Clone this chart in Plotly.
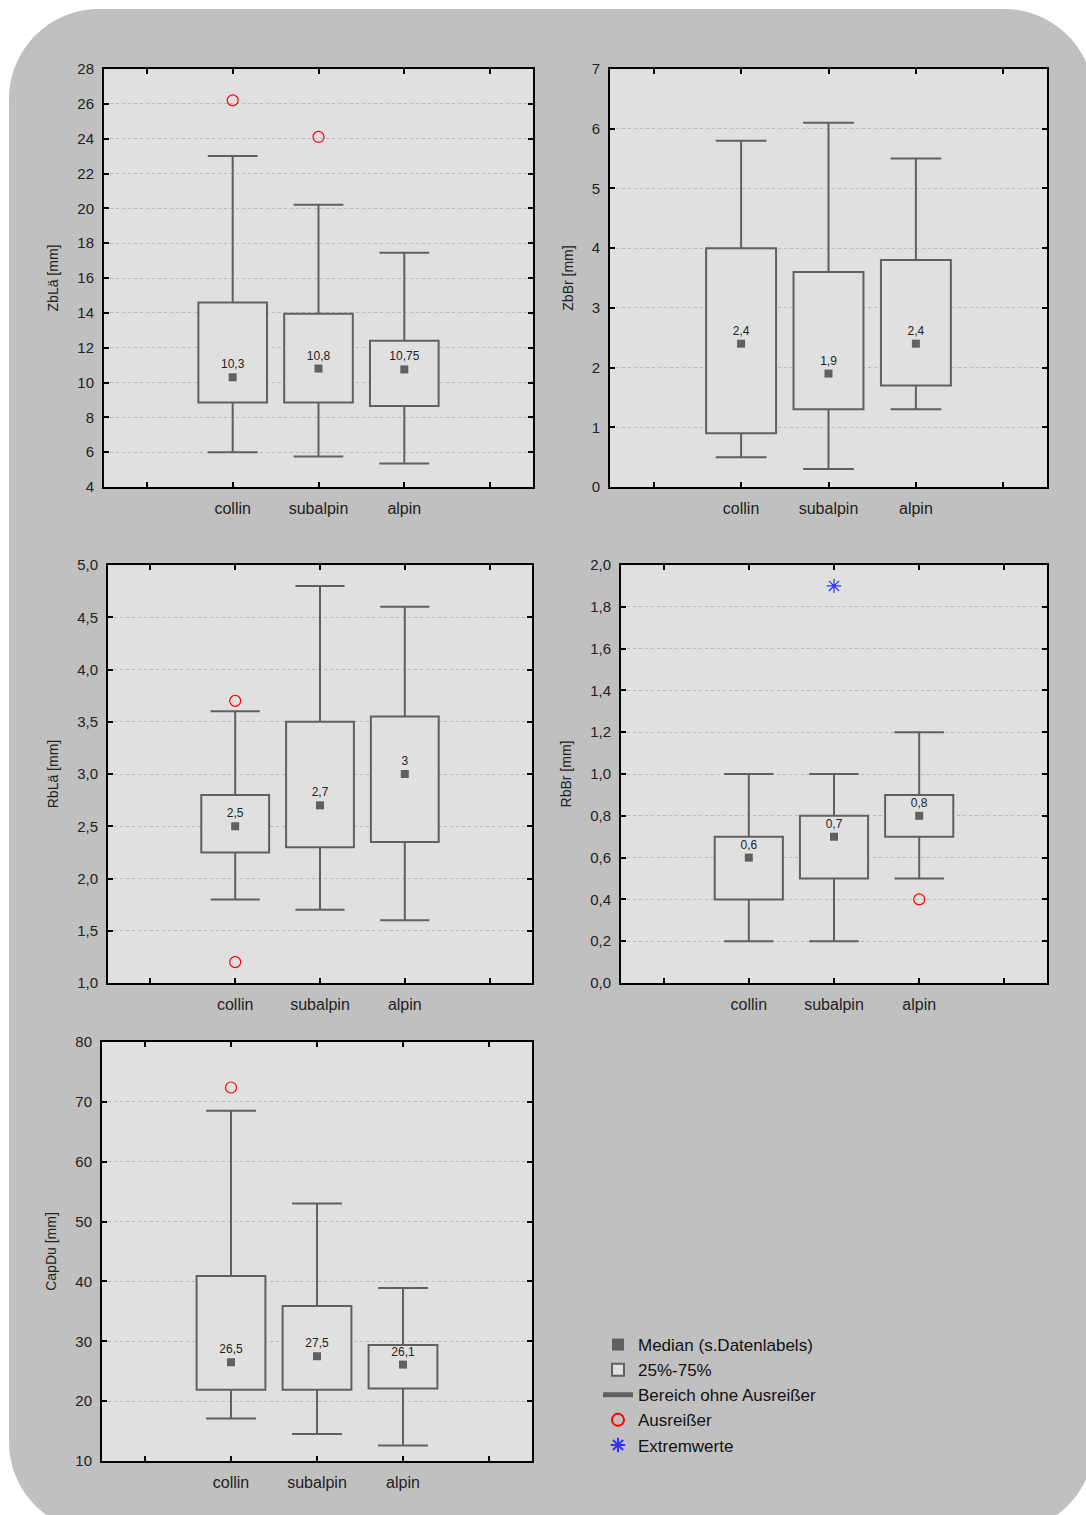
import plotly.graph_objects as go

W, H = 1086, 1515

categories = ["collin", "subalpin", "alpin"]

# ---- ZbLä [mm]
zblae_low = [6.0, 5.75, 5.35]
zblae_q1 = [8.85, 8.85, 8.65]
zblae_med = [10.3, 10.8, 10.75]
zblae_q3 = [14.6, 13.95, 12.4]
zblae_high = [23.0, 20.2, 17.45]
zblae_out_cat = ["collin", "subalpin"]
zblae_out_val = [26.2, 24.1]

# ---- ZbBr [mm]
zbbr_low = [0.5, 0.3, 1.3]
zbbr_q1 = [0.9, 1.3, 1.7]
zbbr_med = [2.4, 1.9, 2.4]
zbbr_q3 = [4.0, 3.6, 3.8]
zbbr_high = [5.8, 6.1, 5.5]

# ---- RbLä [mm]
rblae_low = [1.8, 1.7, 1.6]
rblae_q1 = [2.25, 2.3, 2.35]
rblae_med = [2.5, 2.7, 3.0]
rblae_q3 = [2.8, 3.5, 3.55]
rblae_high = [3.6, 4.8, 4.6]
rblae_out_cat = ["collin", "collin"]
rblae_out_val = [3.7, 1.2]

# ---- RbBr [mm]
rbbr_low = [0.2, 0.2, 0.5]
rbbr_q1 = [0.4, 0.5, 0.7]
rbbr_med = [0.6, 0.7, 0.8]
rbbr_q3 = [0.7, 0.8, 0.9]
rbbr_high = [1.0, 1.0, 1.2]
rbbr_out_cat = ["alpin"]
rbbr_out_val = [0.4]
rbbr_ext_cat = ["subalpin"]
rbbr_ext_val = [1.9]

# ---- CapDu [mm]
capdu_low = [17.1, 14.5, 12.6]
capdu_q1 = [21.9, 21.9, 22.1]
capdu_med = [26.5, 27.5, 26.1]
capdu_q3 = [40.9, 35.9, 29.4]
capdu_high = [68.5, 53.0, 38.9]
capdu_out_cat = ["collin"]
capdu_out_val = [72.4]

panels = [
    dict(title="ZbLä [mm]", low=zblae_low, q1=zblae_q1, med=zblae_med, q3=zblae_q3, high=zblae_high,
         out=(zblae_out_cat, zblae_out_val), ext=None, yrange=[4, 28], dtick=2, fmt=None,
         box=(104, 533, 69, 487)),
    dict(title="ZbBr [mm]", low=zbbr_low, q1=zbbr_q1, med=zbbr_med, q3=zbbr_q3, high=zbbr_high,
         out=None, ext=None, yrange=[0, 7], dtick=1, fmt=None,
         box=(610, 1047, 69, 487)),
    dict(title="RbLä [mm]", low=rblae_low, q1=rblae_q1, med=rblae_med, q3=rblae_q3, high=rblae_high,
         out=(rblae_out_cat, rblae_out_val), ext=None, yrange=[1, 5], dtick=0.5, fmt=".1f",
         box=(108, 532, 565, 983)),
    dict(title="RbBr [mm]", low=rbbr_low, q1=rbbr_q1, med=rbbr_med, q3=rbbr_q3, high=rbbr_high,
         out=(rbbr_out_cat, rbbr_out_val), ext=(rbbr_ext_cat, rbbr_ext_val), yrange=[0, 2], dtick=0.2, fmt=".1f",
         box=(621, 1047, 565, 983)),
    dict(title="CapDu [mm]", low=capdu_low, q1=capdu_q1, med=capdu_med, q3=capdu_q3, high=capdu_high,
         out=(capdu_out_cat, capdu_out_val), ext=None, yrange=[10, 80], dtick=10, fmt=None,
         box=(102, 532, 1042, 1461)),
]

FONT = "Liberation Sans"
LINE = "#606060"
BOXW = 0.8
CAPW = 0.29


def pos(cat):
    return categories.index(cat) + 1


def lab(v):
    return ("%g" % v).replace(".", ",")


fig = go.Figure()
shown = set()

for k, p in enumerate(panels):
    n = "" if k == 0 else str(k + 1)
    xa, ya = "x" + n, "y" + n
    xs = [pos(c) for c in categories]

    def leg(name):
        if name in shown:
            return False
        shown.add(name)
        return True

    # boxes (25%-75%)
    fig.add_trace(go.Bar(
        x=xs, y=[b - a for a, b in zip(p["q1"], p["q3"])], base=p["q1"], width=BOXW,
        marker=dict(color="#e0e0e0", line=dict(color=LINE, width=2)),
        name="25%-75%", legendgroup="box", legendrank=2, showlegend=leg("box"),
        xaxis=xa, yaxis=ya, hoverinfo="skip"))

    # whiskers
    wx, wy = [], []
    for c, lo, q1, q3, hi in zip(categories, p["low"], p["q1"], p["q3"], p["high"]):
        x0 = pos(c)
        wx += [x0, x0, None, x0, x0, None, x0 - CAPW, x0 + CAPW, None, x0 - CAPW, x0 + CAPW, None]
        wy += [q3, hi, None, lo, q1, None, hi, hi, None, lo, lo, None]
    fig.add_trace(go.Scatter(
        x=wx, y=wy, mode="lines", line=dict(color=LINE, width=2),
        name="Bereich ohne Ausreißer", legendgroup="wh", legendrank=3, showlegend=leg("wh"),
        xaxis=xa, yaxis=ya, hoverinfo="skip"))

    # medians
    fig.add_trace(go.Scatter(
        x=xs, y=p["med"], mode="markers+text", text=[lab(v) for v in p["med"]],
        textposition="top center", textfont=dict(size=12, color="#222222", family=FONT),
        marker=dict(symbol="square", size=8, color=LINE),
        name="Median (s.Datenlabels)", legendgroup="med", legendrank=1, showlegend=leg("med"),
        xaxis=xa, yaxis=ya, hoverinfo="skip"))

    if p["out"]:
        oc, ov = p["out"]
        fig.add_trace(go.Scatter(
            x=[pos(c) for c in oc], y=ov, mode="markers",
            marker=dict(symbol="circle-open", size=11, color="#ff0000", line=dict(width=1.2)),
            name="Ausreißer", legendgroup="out", legendrank=4, showlegend=leg("out"),
            xaxis=xa, yaxis=ya, hoverinfo="skip"))
    if p["ext"]:
        ec, ev = p["ext"]
        fig.add_trace(go.Scatter(
            x=[pos(c) for c in ec], y=ev, mode="markers",
            marker=dict(symbol="asterisk-open", size=12, color="#3030ff", line=dict(width=1.2, color="#3030ff")),
            name="Extremwerte", legendgroup="ext", legendrank=5, showlegend=leg("ext"),
            xaxis=xa, yaxis=ya, hoverinfo="skip"))

    l, r, t, b = p["box"]
    axis_common = dict(showline=True, linecolor="black", linewidth=2, mirror="ticks",
                       ticks="inside", ticklen=5, tickwidth=1.5, tickcolor="black",
                       zeroline=False, automargin=False)
    fig.update_layout(**{
        "xaxis" + n: dict(domain=[l / W, r / W], anchor=ya, range=[-0.5, 4.5],
                          tickvals=[0, 1, 2, 3, 4], ticktext=[""] + categories + [""],
                          showgrid=False, ticklabelstandoff=6,
                          tickfont=dict(size=16, family=FONT, color="#222222"), **axis_common),
        "yaxis" + n: dict(domain=[1 - b / H, 1 - t / H], anchor=xa, range=p["yrange"],
                          tick0=p["yrange"][0], dtick=p["dtick"], tickformat=p["fmt"],
                          showgrid=True, gridcolor="#b8b8b8", griddash="dot", gridwidth=1,
                          ticklabelstandoff=5,
                          tickfont=dict(size=15, family=FONT, color="#222222"),
                          title=dict(text=p["title"], font=dict(size=14, family=FONT, color="#222222")),
                          **axis_common),
    })


def rounded_path(l, t, r, b, rad):
    k = 0.5523 * rad

    def P(x, y):
        return "%.5f,%.5f" % (x / W, 1 - y / H)
    s = "M" + P(l + rad, t)
    s += " L" + P(r - rad, t)
    s += " C" + P(r - rad + k, t) + " " + P(r, t + rad - k) + " " + P(r, t + rad)
    s += " L" + P(r, b - rad)
    s += " C" + P(r, b - rad + k) + " " + P(r - rad + k, b) + " " + P(r - rad, b)
    s += " L" + P(l + rad, b)
    s += " C" + P(l + rad - k, b) + " " + P(l, b - rad + k) + " " + P(l, b - rad)
    s += " L" + P(l, t + rad)
    s += " C" + P(l, t + rad - k) + " " + P(l + rad - k, t) + " " + P(l + rad, t)
    s += " Z"
    return s


shapes = [dict(type="path", xref="paper", yref="paper", layer="below",
               path=rounded_path(9, 9, 1094, 1532, 90), fillcolor="#c0c0c0", line=dict(width=0))]
for k in range(len(panels)):
    n = "" if k == 0 else str(k + 1)
    shapes.append(dict(type="rect", xref="x" + n + " domain", yref="y" + n + " domain",
                       x0=0, x1=1, y0=0, y1=1, layer="below", fillcolor="#e0e0e0",
                       line=dict(width=0)))

fig.update_layout(
    width=W, height=H, margin=dict(l=0, r=0, t=0, b=0, autoexpand=False),
    paper_bgcolor="white", plot_bgcolor="#e0e0e0",
    separators=",.",
    font=dict(family=FONT, color="#222222"),
    shapes=shapes,
    showlegend=True,
    legend=dict(x=598 / W, y=1 - 1327 / H, xanchor="left", yanchor="top",
                bgcolor="rgba(0,0,0,0)", font=dict(size=17, family=FONT, color="#111111"),
                tracegroupgap=0, itemsizing="constant"),
)

fig.write_html("out.html")
